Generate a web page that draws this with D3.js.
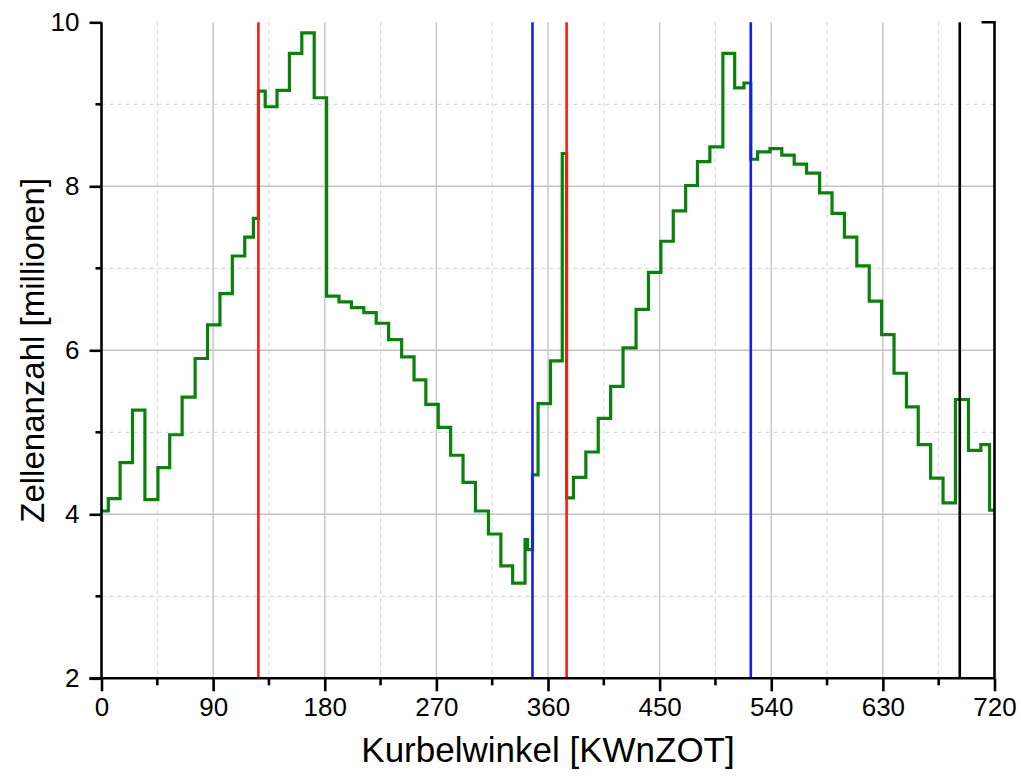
<!DOCTYPE html>
<html>
<head>
<meta charset="utf-8">
<script src="https://cdn.jsdelivr.net/npm/d3@7"></script>
<style>
  body { margin: 0; background: #fff; }
  svg text { font-family: "Liberation Sans", Arial, sans-serif; fill: #000; }
</style>
</head>
<body>
<div id="chart"></div>
<script>

// Stufenbeginn [KWnZOT]
const kurbelwinkel = [
  0, 5.5, 15, 25, 35, 45.5, 55, 65, 75.5, 85.5, 95.5, 105.5, 115.5, 122.5, 126.5,
  132, 141.5, 151.5, 161.5, 171.5, 181.5, 191.5, 201.5, 211.5, 221.5, 231.5, 242,
  252, 261.5, 271.5, 281.5, 291.5, 301.5, 312, 322, 331.5, 341.5, 343.5, 347.5,
  352, 362, 371.5, 375, 380.5, 390.5, 400.5, 410.5, 420.5, 431, 441, 451, 461,
  471, 480.5, 490.5, 501, 510.5, 518, 523.5, 529, 539, 548.5, 558.5, 568.5, 579,
  589, 599, 609, 619, 629, 639, 649, 658.5, 668.5, 678.5, 688.5, 699, 709, 716
];

// Zellenanzahl [millionen]
const zellenanzahl = [
  4.04, 4.19, 4.63, 5.27, 4.18, 4.57, 4.97, 5.43, 5.90, 6.31, 6.69, 7.15, 7.38, 7.61, 9.16,
  8.97, 9.17, 9.62, 9.87, 9.08, 6.66, 6.59, 6.52, 6.46, 6.33, 6.13, 5.92,
  5.64, 5.34, 5.06, 4.72, 4.39, 4.04, 3.76, 3.37, 3.16, 3.69, 3.57, 4.48,
  5.35, 5.87, 8.40, 4.20, 4.45, 4.76, 5.17, 5.56, 6.03, 6.50, 6.95, 7.33, 7.70,
  8.01, 8.30, 8.48, 9.62, 9.20, 9.26, 8.33, 8.42, 8.46, 8.38, 8.27, 8.16, 7.92,
  7.67, 7.38, 7.03, 6.60, 6.19, 5.72, 5.31, 4.85, 4.44, 4.14, 5.40, 4.78, 4.85, 4.05
];

// Steuerzeiten (senkrechte Linien)
const ereignisWinkel = [126.5, 347.5, 375, 523.5, 692];
const ereignisFarben = ['#ff1a1a', '#1a1aff', '#ff1a1a', '#1a1aff', '#000'];

const xTicks = [0, 90, 180, 270, 360, 450, 540, 630, 720];
const yTicks = [2, 4, 6, 8, 10];

const width = 1021, height = 778;
const margin = {top: 22.3, right: 26.5, bottom: 99.7, left: 101.5};
const w = width - margin.left - margin.right;
const h = height - margin.top - margin.bottom;

const svg = d3.select('#chart').append('svg')
  .attr('width', width)
  .attr('height', height);

const g = svg.append('g')
  .attr('transform', `translate(${margin.left}, ${margin.top})`);

const x = d3.scaleLinear().domain([0, 720]).range([0, w]);
const y = d3.scaleLinear().domain([2, 10]).range([h, 0]);

const xMinor = xTicks.slice(0, -1).map((d) => d + 45);
const yMinor = yTicks.slice(0, -1).map((d) => d + 1);

// Gitter
g.append('g').selectAll('line')
  .data(xMinor)
  .enter().append('line')
  .attr('x1', (d) => x(d)).attr('x2', (d) => x(d))
  .attr('y1', 0).attr('y2', h)
  .attr('stroke', '#d9d9d9').attr('stroke-width', 1.2)
  .attr('stroke-dasharray', '4,4');

g.append('g').selectAll('line')
  .data(yMinor)
  .enter().append('line')
  .attr('x1', 0).attr('x2', w)
  .attr('y1', (d) => y(d)).attr('y2', (d) => y(d))
  .attr('stroke', '#d9d9d9').attr('stroke-width', 1.2)
  .attr('stroke-dasharray', '4,4');

g.append('g').selectAll('line')
  .data(xTicks.slice(1, -1))
  .enter().append('line')
  .attr('x1', (d) => x(d)).attr('x2', (d) => x(d))
  .attr('y1', 0).attr('y2', h)
  .attr('stroke', '#c4c4c4').attr('stroke-width', 1.4);

g.append('g').selectAll('line')
  .data(yTicks.slice(1, -1))
  .enter().append('line')
  .attr('x1', 0).attr('x2', w)
  .attr('y1', (d) => y(d)).attr('y2', (d) => y(d))
  .attr('stroke', '#c4c4c4').attr('stroke-width', 1.4);

// Stufenkurve
const punkte = kurbelwinkel.map((k, i) => ({k: k, v: zellenanzahl[i]}));
punkte.push({k: 720, v: zellenanzahl[zellenanzahl.length - 1]});

const linie = d3.line()
  .x((d) => x(d.k))
  .y((d) => y(d.v))
  .curve(d3.curveStepAfter);

g.append('path')
  .datum(punkte)
  .attr('d', linie)
  .attr('fill', 'none')
  .attr('stroke', '#0c800c')
  .attr('stroke-width', 3.2)
  .attr('stroke-linejoin', 'miter');

// Steuerzeiten
g.append('g').selectAll('line')
  .data(ereignisWinkel)
  .enter().append('line')
  .attr('x1', (d) => x(d)).attr('x2', (d) => x(d))
  .attr('y1', y(10)).attr('y2', y(2))
  .attr('stroke', (d, i) => ereignisFarben[i])
  .attr('stroke-width', 2.6);

// rechter Rahmen
g.append('path')
  .attr('d', `M${x(720) - 13},${y(10)}H${x(720)}V${y(2)}`)
  .attr('fill', 'none')
  .attr('stroke', '#000')
  .attr('stroke-width', 2.6);

// Achsen
const xAxis = g.append('g')
  .attr('transform', `translate(0, ${h})`)
  .call(d3.axisBottom(x).tickValues(xTicks).tickSize(13).tickPadding(6));
xAxis.append('g').selectAll('line')
  .data(xMinor)
  .enter().append('line')
  .attr('x1', (d) => x(d)).attr('x2', (d) => x(d))
  .attr('y1', 0).attr('y2', 7);

const yAxis = g.append('g')
  .call(d3.axisLeft(y).tickValues(yTicks).tickSize(12).tickPadding(10));
yAxis.append('g').selectAll('line')
  .data(yMinor)
  .enter().append('line')
  .attr('x1', -6).attr('x2', 0)
  .attr('y1', (d) => y(d)).attr('y2', (d) => y(d));

[xAxis, yAxis].forEach((a) => {
  a.select('.domain').attr('stroke', '#000').attr('stroke-width', 2.6);
  a.selectAll('line').attr('stroke', '#000').attr('stroke-width', 2.6);
  a.selectAll('text').attr('font-size', 26)
    .attr('font-family', '"Liberation Sans", Arial, sans-serif');
});
xAxis.select('.domain').attr('d', `M-12,0H${w}`);
yAxis.select('.domain').attr('d', `M0,0V${h}`);

// Achsentitel
svg.append('text')
  .attr('x', margin.left + w / 2)
  .attr('y', 762)
  .attr('text-anchor', 'middle')
  .attr('font-size', 35)
  .text('Kurbelwinkel [KWnZOT]');

svg.append('text')
  .attr('transform', `translate(44, ${margin.top + h / 2}) rotate(-90)`)
  .attr('text-anchor', 'middle')
  .attr('font-size', 33)
  .text('Zellenanzahl [millionen]');

</script>
</body>
</html>
